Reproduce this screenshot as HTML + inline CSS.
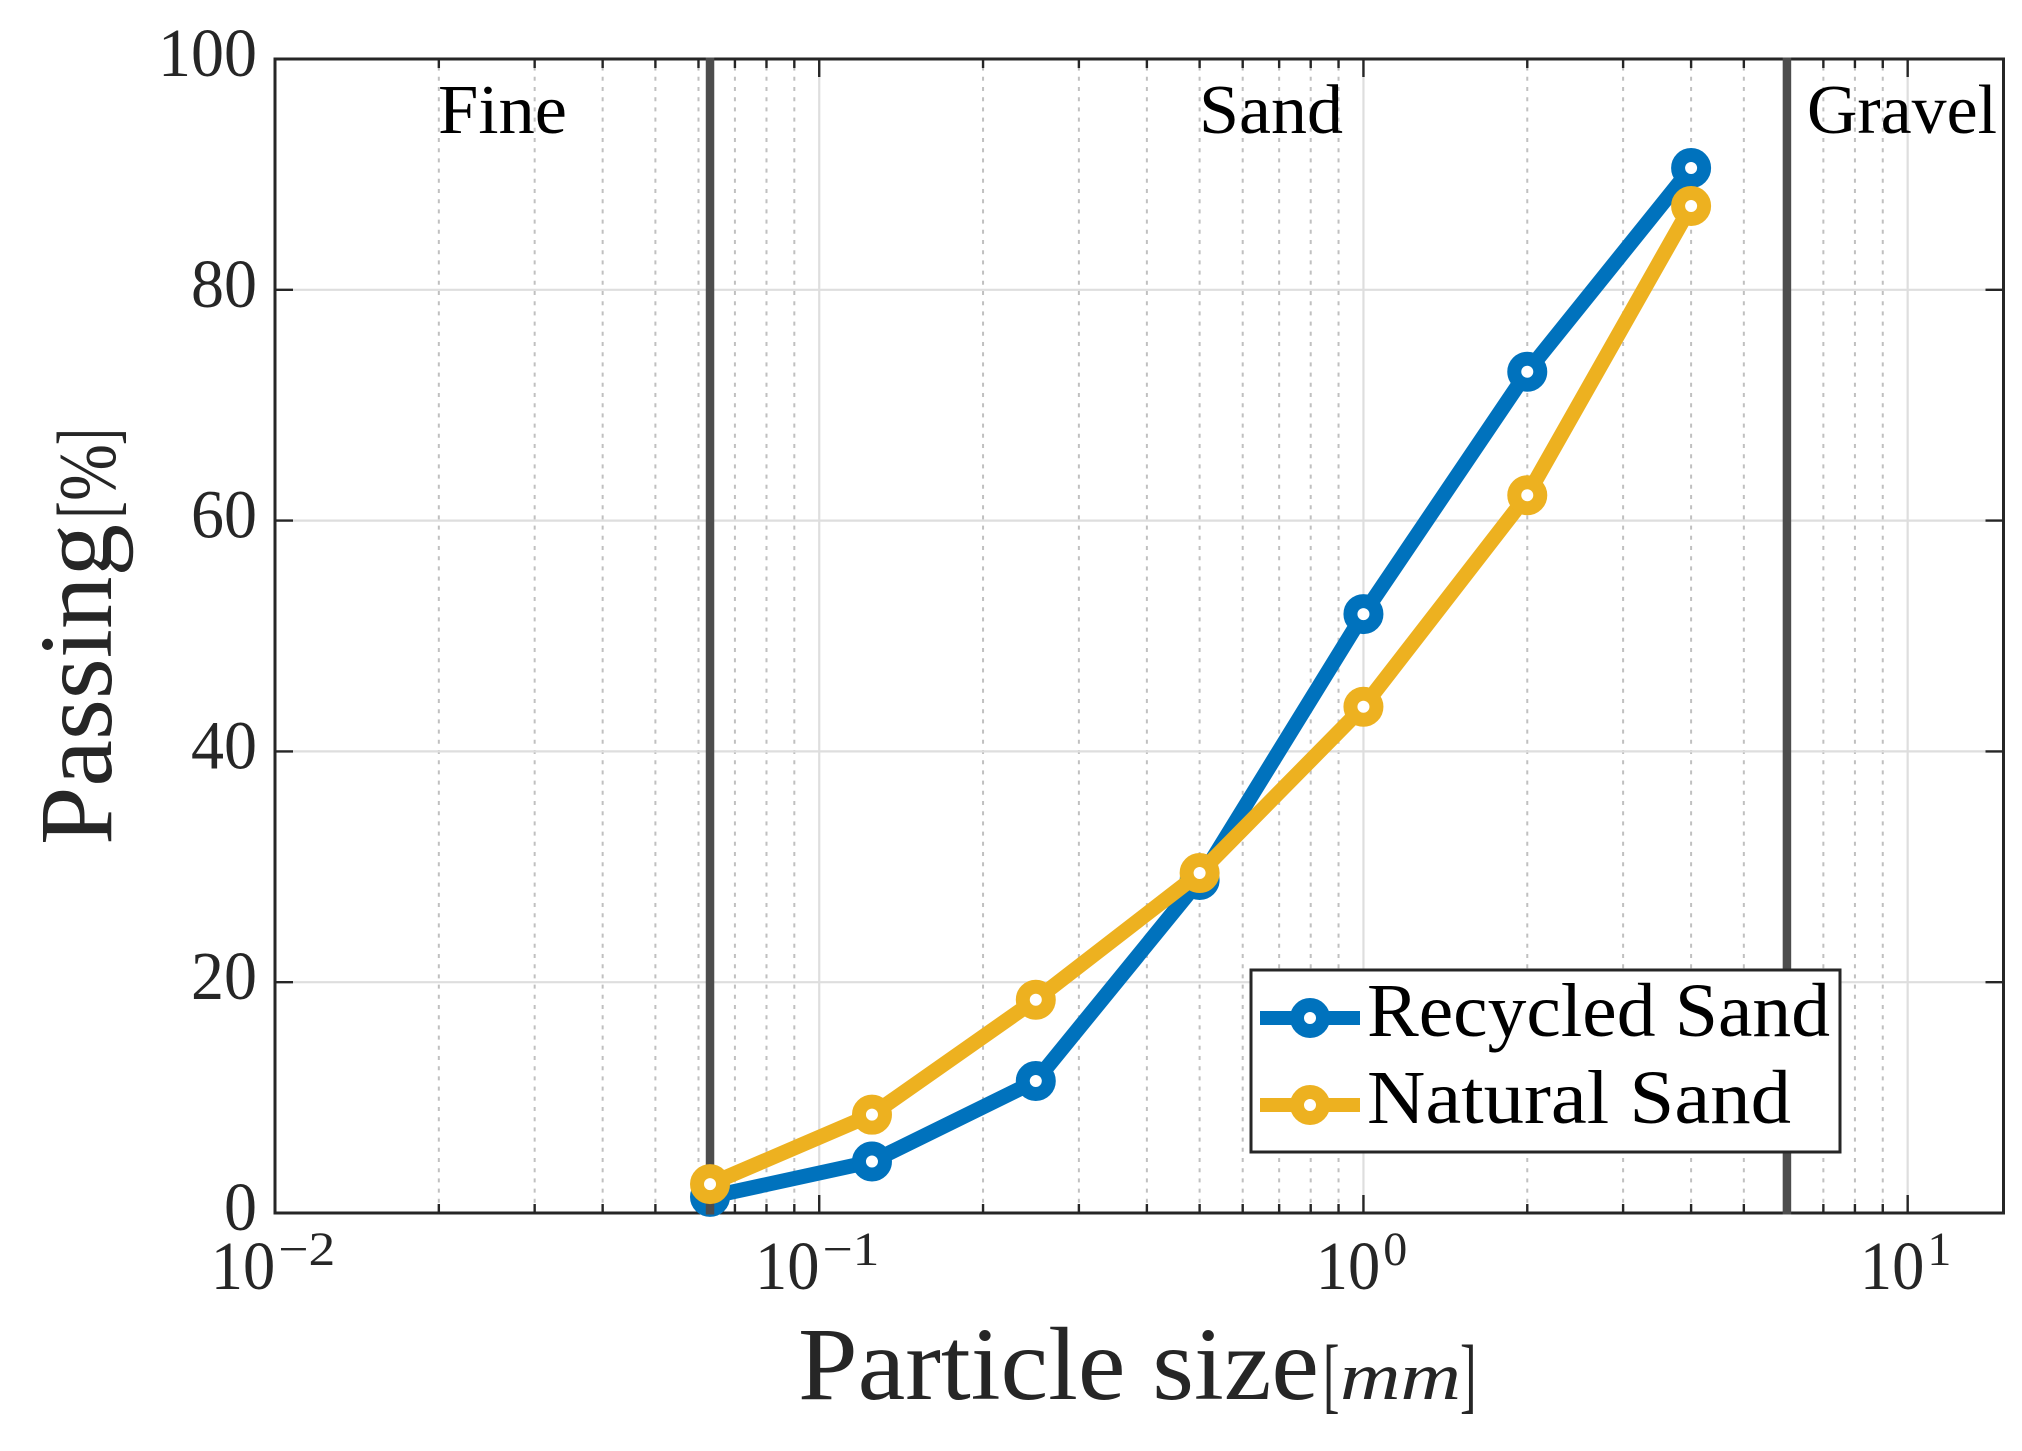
<!DOCTYPE html>
<html lang="en">
<head>
<meta charset="utf-8">
<title>Particle size distribution</title>
<style>
html,body{margin:0;padding:0;background:#fff;}
#chart{display:block;}
text{font-family:"Liberation Serif",serif;}
</style>
</head>
<body>
<svg id="chart" xmlns="http://www.w3.org/2000/svg" width="2022" height="1451" viewBox="0 0 2022 1451">
  <rect x="0" y="0" width="2022" height="1451" fill="#fff"/>
  <g id="grid"></g>
  <g id="axes"></g>
  <g id="series-recycled"></g>
  <g id="boundaries"></g>
  <g id="series-natural"></g>

  <text x="438" y="133" font-size="70" fill="#000" textLength="129" lengthAdjust="spacingAndGlyphs">Fine</text>
  <text x="1199" y="133" font-size="70" fill="#000" textLength="144" lengthAdjust="spacingAndGlyphs">Sand</text>
  <text x="1807" y="133" font-size="70" fill="#000" textLength="190" lengthAdjust="spacingAndGlyphs">Gravel</text>

  <g fill="#262626">
    <text x="798" y="1399" font-size="104" textLength="521" lengthAdjust="spacingAndGlyphs">Particle size</text>
    <text x="1323" y="1403" font-size="84" textLength="16.5" lengthAdjust="spacingAndGlyphs">[</text>
    <text x="1340" y="1399" font-size="68" font-style="italic" textLength="121" lengthAdjust="spacingAndGlyphs">mm</text>
    <text x="1460" y="1403" font-size="84" textLength="16.5" lengthAdjust="spacingAndGlyphs">]</text>
  </g>

  <g fill="#262626">
    <text transform="translate(111 845) rotate(-90)" font-size="104" textLength="321" lengthAdjust="spacingAndGlyphs">Passing</text>
    <text transform="translate(115 518) rotate(-90)" font-size="84" textLength="16.5" lengthAdjust="spacingAndGlyphs">[</text>
    <text transform="translate(115 501) rotate(-90)" font-size="82" textLength="57" lengthAdjust="spacingAndGlyphs">%</text>
    <text transform="translate(115 445) rotate(-90)" font-size="84" textLength="16.5" lengthAdjust="spacingAndGlyphs">]</text>
  </g>

  <g id="legend">
    <rect x="1251" y="970" width="589" height="182" fill="#fff" stroke="#262626" stroke-width="3"/>
    <g>
      <line x1="1260" y1="1018" x2="1360" y2="1018" stroke="#0072bd" stroke-width="14"/>
      <circle cx="1310" cy="1018" r="13" fill="#fff" stroke="#0072bd" stroke-width="14"/>
      <text x="1367" y="1036" font-size="76" fill="#000" textLength="463" lengthAdjust="spacingAndGlyphs">Recycled Sand</text>
    </g>
    <g>
      <line x1="1260" y1="1105" x2="1360" y2="1105" stroke="#edb120" stroke-width="14"/>
      <circle cx="1310" cy="1105" r="13" fill="#fff" stroke="#edb120" stroke-width="14"/>
      <text x="1367" y="1123" font-size="76" fill="#000" textLength="424" lengthAdjust="spacingAndGlyphs">Natural Sand</text>
    </g>
  </g>
</svg>
<script>
/* ---- chart data ---- */
var particleSizes = [0.063, 0.125, 0.25, 0.5, 1, 2, 4];
var recycledSand = [1.4, 4.46, 11.44, 28.86, 51.9, 72.9, 90.55];
var naturalSand = [2.5, 8.52, 18.48, 29.46, 43.87, 62.2, 87.26];
var regionBoundaries = [0.063, 6];
var yTickValues = [0, 20, 40, 60, 80, 100];
var yTickLabels = ["0", "20", "40", "60", "80", "100"];
var xTickDecades = [-2, -1, 0, 1];
var xTickBases = ["10", "10", "10", "10"];
var xTickExponents = ["\u22122", "\u22121", "0", "1"];
var xMinorMultiples = [2, 3, 4, 5, 6, 7, 8, 9];
var xLimits = [0.01, 15];
var yLimits = [0, 100];

/* ---- axis functions ---- */
var PLOT_LEFT = 275, PLOT_RIGHT = 2003.5, PLOT_TOP = 59, PLOT_BOTTOM = 1213;
function xScale(v) {
  var a = Math.log10(xLimits[0]), b = Math.log10(xLimits[1]);
  return PLOT_LEFT + (Math.log10(v) - a) / (b - a) * (PLOT_RIGHT - PLOT_LEFT);
}
function yScale(v) {
  return PLOT_BOTTOM - (v - yLimits[0]) / (yLimits[1] - yLimits[0]) * (PLOT_BOTTOM - PLOT_TOP);
}

var NS = "http://www.w3.org/2000/svg";
function mk(parent, tag, props) {
  var el = document.createElementNS(NS, tag);
  for (var k in props) el.setAttribute(k, props[k]);
  parent.appendChild(el);
  return el;
}

var grid = document.getElementById("grid");
var axes = document.getElementById("axes");
var el;

/* gridlines */
xTickDecades.forEach(function (d) {
  xMinorMultiples.forEach(function (m) {
    var v = m * Math.pow(10, d);
    if (v > xLimits[1]) return;
    var x = xScale(v);
    el = mk(grid, "line", {x1: x, y1: PLOT_BOTTOM, x2: x, y2: PLOT_TOP, stroke: "#c0c0c0", "stroke-width": 2, "stroke-dasharray": "4 6.2"});
    
    
  });
  var vMajor = Math.pow(10, d);
  if (vMajor > xLimits[0]) {
    var xm = xScale(vMajor);
    el = mk(grid, "line", {x1: xm, y1: PLOT_BOTTOM, x2: xm, y2: PLOT_TOP, stroke: "#dedede", "stroke-width": 2.2});
    
    
  }
});
yTickValues.forEach(function (v) {
  if (v === yLimits[0] || v === yLimits[1]) return;
  var y = yScale(v);
  el = mk(grid, "line", {x1: PLOT_LEFT, y1: y, x2: PLOT_RIGHT, y2: y, stroke: "#dedede", "stroke-width": 2.2});
  
  
});

/* plot box */
el = mk(axes, "rect", {x: PLOT_LEFT, y: PLOT_TOP, width: PLOT_RIGHT - PLOT_LEFT, height: PLOT_BOTTOM - PLOT_TOP, fill: "none", stroke: "#262626", "stroke-width": 3});



/* ticks */
function xTick(v, len, name) {
  var x = xScale(v);
  el = mk(axes, "line", {x1: x, y1: PLOT_BOTTOM, x2: x, y2: PLOT_BOTTOM - len, stroke: "#262626", "stroke-width": 2.4});
  
  
  el = mk(axes, "line", {x1: x, y1: PLOT_TOP, x2: x, y2: PLOT_TOP + len, stroke: "#262626", "stroke-width": 2.4});
  
  
}
xTickDecades.forEach(function (d) {
  xTick(Math.pow(10, d), 18, 'x-major-tick');
  xMinorMultiples.forEach(function (m) {
    var v = m * Math.pow(10, d);
    if (v <= xLimits[1]) xTick(v, 9, 'x-minor-tick');
  });
});
yTickValues.forEach(function (v, i) {
  var y = yScale(v);
  el = mk(axes, "line", {x1: PLOT_LEFT, y1: y, x2: PLOT_LEFT + 18, y2: y, stroke: "#262626", "stroke-width": 2.4});
  
  
  el = mk(axes, "line", {x1: PLOT_RIGHT, y1: y, x2: PLOT_RIGHT - 18, y2: y, stroke: "#262626", "stroke-width": 2.4});
  
  
  var lab = yTickLabels[i];
  var w = lab.length * 33;
  el = mk(axes, "text", {x: 257 - w, y: y + 17, "font-size": 69, fill: "#262626", textLength: w, lengthAdjust: "spacingAndGlyphs"});
  el.textContent = lab;
  
  
});

/* x tick labels */
xTickDecades.forEach(function (d, i) {
  var cx = xScale(Math.pow(10, d));
  var baseW = 64.5;
  var exponent = xTickExponents[i];
  var supW = exponent.length > 1 ? 57 : 24;
  var start = cx - (baseW + 3 + supW) / 2 - 2;
  var sup = mk(axes, "text", {x: start + baseW + 3, y: 1265, "font-size": 48, fill: "#262626", textLength: supW, lengthAdjust: "spacingAndGlyphs"});
  sup.textContent = exponent;
  
  
  el = mk(axes, "text", {x: start, y: 1289, "font-size": 69, fill: "#262626", textLength: baseW, lengthAdjust: "spacingAndGlyphs"});
  el.textContent = xTickBases[i];
  
  
});

/* series */
function drawSeries(group, values, color, lineName, markerName) {
  var pts = particleSizes.map(function (s, i) { return xScale(s) + "," + yScale(values[i]); }).join(" ");
  var line = mk(group, "polyline", {points: pts, fill: "none", stroke: color, "stroke-width": 15, "stroke-linejoin": "miter"});
  
  
  particleSizes.forEach(function (s, i) {
    var c = mk(group, "circle", {cx: xScale(s), cy: yScale(values[i]), r: 13, fill: "#fff", stroke: color, "stroke-width": 14});
    
    
  });
}
drawSeries(document.getElementById("series-recycled"), recycledSand, "#0072bd", "recycled-sand-line", "recycled-sand-point");

regionBoundaries.forEach(function (v) {
  var x = xScale(v);
  el = mk(document.getElementById("boundaries"), "line", {x1: x, y1: PLOT_TOP - 1.5, x2: x, y2: PLOT_BOTTOM + 1.5, stroke: "#4d4d4d", "stroke-width": 8.5});
  
  
});

drawSeries(document.getElementById("series-natural"), naturalSand, "#edb120", "natural-sand-line", "natural-sand-point");
</script>
</body>
</html>
